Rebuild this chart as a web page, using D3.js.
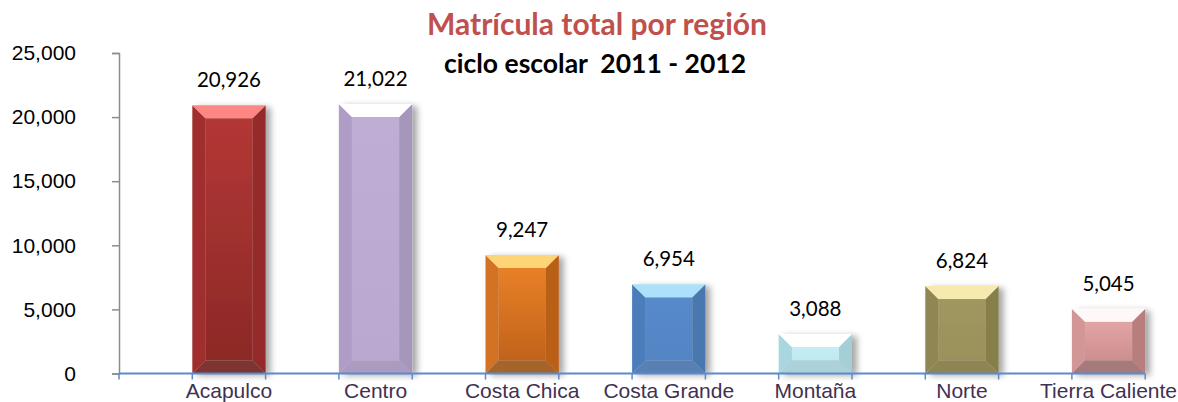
<!DOCTYPE html>
<html>
<head>
<meta charset="utf-8">
<script src="https://cdn.jsdelivr.net/npm/d3@7"></script>
<style>
  body { margin: 0; background: #fff; }
  svg { display: block; }
</style>
</head>
<body>
<script>
// data
const regions = ['Acapulco', 'Centro', 'Costa Chica', 'Costa Grande', 'Montaña', 'Norte', 'Tierra Caliente'];
const matricula = [20926, 21022, 9247, 6954, 3088, 6824, 5045];
const yTicks = [0, 5000, 10000, 15000, 20000, 25000];

// colours per bar: top bevel, front (top), front (bottom), left, right, bottom bevel
const palette = [
  {top: '#ff8783', f0: '#b33735', f1: '#8c2927', left: '#a12f2d', right: '#962b29', bot: '#7e3633'},
  {top: '#ffffff', f0: '#bfadd6', f1: '#bba8d0', left: '#af9dc7', right: '#a596ba', bot: '#ab9bc0'},
  {top: '#fdd476', f0: '#e88028', f1: '#c1631b', left: '#d27222', right: '#b95f18', bot: '#a5652a'},
  {top: '#abe1fa', f0: '#568acb', f1: '#5385c5', left: '#4c7dba', right: '#4877b0', bot: '#5880b5'},
  {top: '#ffffff', f0: '#c4eef6', f1: '#bfe8f0', left: '#a9d6df', right: '#a5cfd7', bot: '#acd1d9'},
  {top: '#f6eaaf', f0: '#a09760', f1: '#9a915a', left: '#8f8652', right: '#877f4a', bot: '#8e8553'},
  {top: '#fff8f8', f0: '#e2a4a4', f1: '#cc8e8e', left: '#d29696', right: '#b87d7d', bot: '#a67a7a'}
];

const W = 1178, H = 402;
const x0 = 119, y0 = 373.5, yTop = 53;

const svg = d3.select('body').append('svg')
  .attr('width', W)
  .attr('height', H);

const defs = svg.append('defs');
const shadow = defs.append('filter').attr('id', 'shadow')
  .attr('x', '-20%').attr('y', '-20%').attr('width', '150%').attr('height', '140%');
shadow.append('feDropShadow')
  .attr('dx', 5).attr('dy', 2).attr('stdDeviation', 3)
  .attr('flood-color', '#000').attr('flood-opacity', 0.35);

palette.forEach((p, i) => {
  const gr = defs.append('linearGradient').attr('id', 'front' + i)
    .attr('x1', 0).attr('y1', 0).attr('x2', 0).attr('y2', 1);
  gr.append('stop').attr('offset', '0%').attr('stop-color', p.f0);
  gr.append('stop').attr('offset', '100%').attr('stop-color', p.f1);
});

// scales
const xscale = d3.scaleBand()
  .domain(regions)
  .range([x0, x0 + 7.5 * 146.6])
  .paddingInner(0.5)
  .paddingOuter(0.5);

const yscale = d3.scaleLinear()
  .domain([0, 25000])
  .range([y0, yTop]);

// titles
svg.append('text')
  .attr('x', 597).attr('y', 35)
  .attr('text-anchor', 'middle')
  .style('font-family', 'Lato, "Open Sans", sans-serif')
  .style('font-weight', 'bold')
  .style('font-size', '30px')
  .style('fill', '#c0504d')
  .text('Matrícula total por región');

svg.append('text')
  .attr('x', 595).attr('y', 73)
  .attr('text-anchor', 'middle')
  .style('font-family', 'Lato, "Open Sans", sans-serif')
  .style('font-weight', 'bold')
  .style('font-size', '26.5px')
  .style('fill', '#000')
  .style('white-space', 'pre')
  .text('ciclo escolar\u00a0 2011 - 2012');

// y axis
const yaxis = d3.axisLeft(yscale)
  .tickValues(yTicks)
  .tickSize(7)
  .tickPadding(36)
  .tickFormat(d3.format(','));
const g_yaxis = svg.append('g')
  .attr('transform', `translate(${x0},0)`)
  .call(yaxis);
g_yaxis.select('.domain').attr('stroke', '#8c8c8c').attr('stroke-width', 1.5);
g_yaxis.selectAll('.tick line').attr('stroke', '#8c8c8c').attr('stroke-width', 1.5);
g_yaxis.selectAll('.tick text')
  .style('font-family', '"Liberation Sans", Arial, sans-serif')
  .style('font-size', '21px')
  .style('fill', '#000');

// bars
const b = 13;
const bars = svg.append('g').selectAll('g.bar')
  .data(regions.map((r, i) => ({region: r, value: matricula[i], i: i})))
  .join('g')
  .attr('class', 'bar')
  .attr('filter', 'url(#shadow)');

bars.each(function(d) {
  const g = d3.select(this);
  const L = xscale(d.region), R = L + xscale.bandwidth();
  const T = yscale(d.value), B = yscale(0);
  const p = palette[d.i];
  const pts = (a) => a.map((q) => q.join(',')).join(' ');
  g.append('rect')
    .attr('x', L + b).attr('y', T + b)
    .attr('width', R - L - 2 * b).attr('height', B - T - 2 * b)
    .attr('fill', `url(#front${d.i})`);
  g.append('polygon').attr('points', pts([[L, T], [L + b, T + b], [L + b, B - b], [L, B]])).attr('fill', p.left);
  g.append('polygon').attr('points', pts([[R, T], [R, B], [R - b, B - b], [R - b, T + b]])).attr('fill', p.right);
  g.append('polygon').attr('points', pts([[L, B], [L + b, B - b], [R - b, B - b], [R, B]])).attr('fill', p.bot);
  g.append('polygon').attr('points', pts([[L, T], [R, T], [R - b, T + b], [L + b, T + b]])).attr('fill', p.top);
});

// value labels
svg.append('g').selectAll('text')
  .data(regions.map((r, i) => ({region: r, value: matricula[i]})))
  .join('text')
  .attr('x', (d) => xscale(d.region) + xscale.bandwidth() / 2)
  .attr('y', (d) => yscale(d.value) - 18)
  .attr('text-anchor', 'middle')
  .style('font-family', 'Lato, "Open Sans", sans-serif')
  .style('font-size', '20.5px')
  .style('fill', '#000')
  .text((d) => d3.format(',')(d.value));

// x axis: line, ticks at bar edges, labels under bars
const xEnd = xscale(regions[regions.length - 1]) + xscale.bandwidth();
const g_xaxis = svg.append('g');
g_xaxis.append('line')
  .attr('x1', x0).attr('x2', xEnd)
  .attr('y1', y0).attr('y2', y0)
  .attr('stroke', '#5b8bcf').attr('stroke-width', 2);
const tickXs = [x0].concat(...regions.map((r) => [xscale(r), xscale(r) + xscale.bandwidth()]));
g_xaxis.selectAll('line.tick')
  .data(tickXs)
  .join('line')
  .attr('class', 'tick')
  .attr('x1', (d) => d).attr('x2', (d) => d)
  .attr('y1', y0).attr('y2', y0 + 6)
  .attr('stroke', '#5b8bcf').attr('stroke-width', 1.5);
g_xaxis.selectAll('text')
  .data(regions)
  .join('text')
  .attr('x', (d) => xscale(d) + xscale.bandwidth() / 2)
  .attr('y', 398)
  .attr('text-anchor', 'middle')
  .style('font-family', '"Liberation Sans", Arial, sans-serif')
  .style('font-size', '21px')
  .style('fill', '#3f3151')
  .text((d) => d);
</script>
</body>
</html>
